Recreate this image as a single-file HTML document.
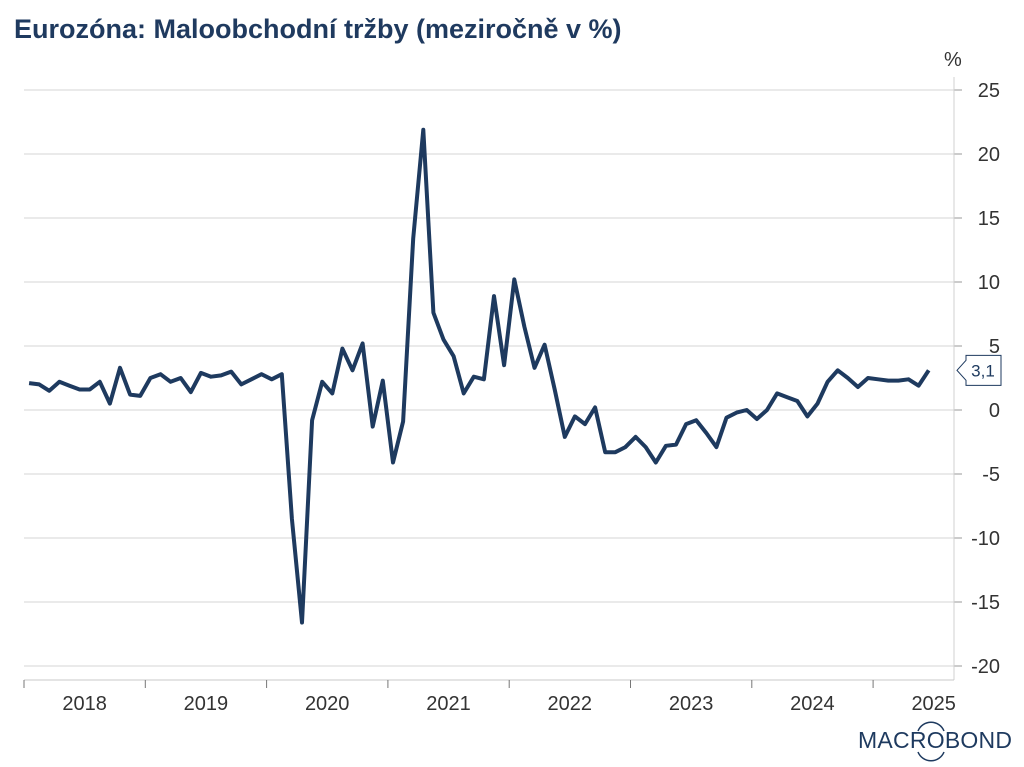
<!DOCTYPE html>
<html><head><meta charset="utf-8"><style>
body{margin:0;background:#fff;font-family:"Liberation Sans",sans-serif;}
#wrap{position:relative;width:1024px;height:767px;overflow:hidden;}
#title{position:absolute;left:14px;top:14px;font-size:27px;font-weight:bold;color:#1f3a5f;}
</style></head><body>
<div id="wrap">
<div id="title">Eurozóna: Maloobchodní tržby (meziročně v %)</div>
<svg id="chart" width="1024" height="767" style="position:absolute;left:0;top:0"></svg>
</div>
<script>
const years=["2018","2019","2020","2021","2022","2023","2024","2025"];
const yTicks=[25,20,15,10,5,0,-5,-10,-15,-20];
const values=[2.1,2.0,1.5,2.2,1.9,1.6,1.6,2.2,0.5,3.3,1.2,1.1,
2.5,2.8,2.2,2.5,1.4,2.9,2.6,2.7,3.0,2.0,2.4,2.8,
2.4,2.8,-8.5,-16.6,-0.8,2.2,1.3,4.8,3.1,5.2,-1.3,2.3,
-4.1,-0.9,13.4,21.9,7.6,5.5,4.2,1.3,2.6,2.4,8.9,3.5,
10.2,6.5,3.3,5.1,1.6,-2.1,-0.5,-1.1,0.2,-3.3,-3.3,-2.9,
-2.1,-2.9,-4.1,-2.8,-2.7,-1.1,-0.8,-1.8,-2.9,-0.6,-0.2,0.0,
-0.7,0.0,1.3,1.0,0.7,-0.5,0.5,2.2,3.1,2.5,1.8,2.5,
2.4,2.3,2.3,2.4,1.9,3.1];
const lastLabel="3,1";
const NS="http://www.w3.org/2000/svg";
const svg=document.getElementById('chart');
const X0=24,XR=954,MW=121.3/12;
const yS=v=>410-v*12.8;
const xS=i=>X0+(i+0.5)*MW;
function mk(t,a,p){const e=document.createElementNS(NS,t);for(const k in a)e.setAttribute(k,a[k]);(p||svg).appendChild(e);return e;}
yTicks.forEach(t=>{
 const g=mk('line',{x1:X0,x2:XR,y1:yS(t),y2:yS(t),stroke:'#d4d4d4','stroke-width':1});
 
 
 const tk=mk('line',{x1:XR,x2:XR+8,y1:yS(t),y2:yS(t),stroke:'#999'});
 
 
 const l=mk('text',{x:1000,y:yS(t)+7,'text-anchor':'end','font-size':20,fill:'#333'});
 l.textContent=String(t);
 
 
});
const ax=mk('line',{x1:XR,x2:XR,y1:77,y2:680,stroke:'#d0d0d0'});


const xa=mk('line',{x1:X0,x2:XR,y1:680,y2:680,stroke:'#c8c8c8'});


const pc=mk('text',{x:944,y:66,'font-size':20,fill:'#333'});pc.textContent='%';


years.forEach((y,i)=>{
 const x=X0+i*121.3;
 const t=mk('line',{x1:x,x2:x,y1:680,y2:688,stroke:'#777'});
 
 
 const l=mk('text',{x:x+60.6,y:710,'text-anchor':'middle','font-size':20,fill:'#333'});
 l.textContent=y;
 
 
});
const d=values.map((v,i)=>(i?'L':'M')+xS(i).toFixed(1)+','+yS(v).toFixed(1)).join('');
const p=mk('path',{d:d,fill:'none',stroke:'#1e3a5f','stroke-width':4,'stroke-linejoin':'round'});


const ly=yS(values[values.length-1]);
const cb=mk('path',{d:`M957,${ly} L966,${ly-10} L966,${ly-15} L1001,${ly-15} L1001,${ly+15} L966,${ly+15} L966,${ly+10} Z`,fill:'#fff',stroke:'#1e3a5f','stroke-width':1});


const ct=mk('text',{x:983,y:ly+6,'text-anchor':'middle','font-size':17,fill:'#1e3a5f'});ct.textContent=lastLabel;


const lg=mk('text',{x:858,y:748,'font-size':23,fill:'#1e3a5f',textLength:154});lg.textContent='MACROBOND';


const arc=mk('path',{d:'M918,731 A14,14 0 0 1 944,731 M918,752 A14,14 0 0 0 944,752',fill:'none',stroke:'#1e3a5f','stroke-width':1.5});


</script>
</body></html>
